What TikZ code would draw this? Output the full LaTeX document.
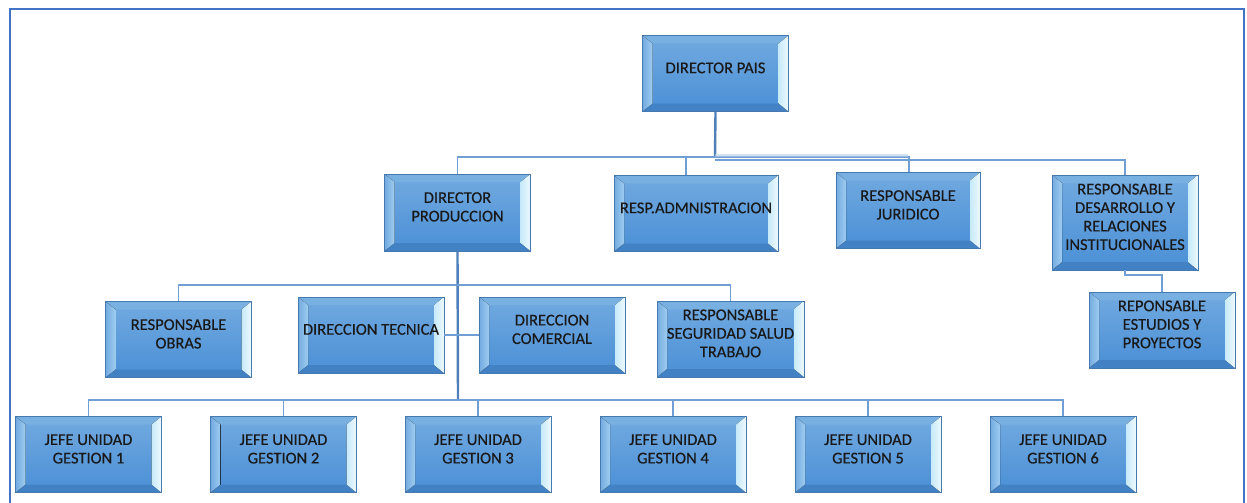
\documentclass[tikz,border=0pt]{standalone}
\usepackage{fontspec}
\setmainfont{Carlito}[FakeBold=0.4]
\definecolor{facetop}{HTML}{72AAE0}
\definecolor{facebot}{HTML}{4A8FD6}
\definecolor{edgec}{HTML}{4679B0}
\definecolor{bevL}{HTML}{9FCDF0}
\definecolor{bevR}{HTML}{C6EAFA}
\definecolor{bevT}{HTML}{78B0E2}
\definecolor{bevB}{HTML}{4281C4}
\definecolor{conn}{HTML}{6F9FD4}
\definecolor{connD}{HTML}{4F7FB8}
\definecolor{framec}{HTML}{4472C4}
\newcommand\boxlbl[1]{\raisebox{4pt}[\height][\depth]{\begin{tabular}{@{}c@{}}#1\end{tabular}}}
\begin{document}
\begin{tikzpicture}[x=1pt,y=-1pt,
  orgbox/.style={draw=edgec, line width=0.8pt, top color=facetop, bottom color=facebot,
    minimum width=146pt, minimum height=76pt, text=black!90, inner sep=2pt,
    font=\fontsize{16.5}{18.5}\selectfont,
    path picture={
      \fill[bevT] (path picture bounding box.north west) -- (path picture bounding box.north east)
        -- ([shift={(-10pt,-8pt)}]path picture bounding box.north east) -- ([shift={(10pt,-8pt)}]path picture bounding box.north west) -- cycle;
      \fill[bevB] (path picture bounding box.south west) -- (path picture bounding box.south east)
        -- ([shift={(-10pt,8pt)}]path picture bounding box.south east) -- ([shift={(10pt,8pt)}]path picture bounding box.south west) -- cycle;
      \fill[left color=facetop, right color=bevL] (path picture bounding box.north west) -- ([shift={(10pt,-8pt)}]path picture bounding box.north west)
        -- ([shift={(10pt,8pt)}]path picture bounding box.south west) -- (path picture bounding box.south west) -- cycle;
      \fill[left color=bevR, right color=white!70!bevR] (path picture bounding box.north east) -- ([shift={(-10pt,-8pt)}]path picture bounding box.north east)
        -- ([shift={(-10pt,8pt)}]path picture bounding box.south east) -- (path picture bounding box.south east) -- cycle;
    }},
  link/.style={draw=conn, line width=1.6pt},
  mainlink/.style={draw=connD, line width=2.4pt}]
\useasboundingbox (0,0) rectangle (1247,503);
\draw[framec, line width=1.5pt] (10,503) -- (10,9) -- (1244,9) -- (1244,503);

\coordinate (bus1) at (715,157);
\coordinate (bus2) at (458,285);
\coordinate (bus4) at (458,400);
\coordinate (busd) at (1125,275);

\node[orgbox] (dp) at (715.5,73.5) {\boxlbl{DIRECTOR PAIS}};
\node[orgbox, minimum height=77pt] (prod) at (457.5,212.5) {\boxlbl{DIRECTOR\\PRODUCCION}};
\node[orgbox, minimum width=164pt] (adm) at (696,213.5) {\boxlbl{RESP.ADMNISTRACION}};
\node[orgbox, minimum width=144pt] (jur) at (908,210.5) {\boxlbl{RESPONSABLE\\JURIDICO}};
\node[orgbox, minimum height=95pt] (des) at (1125,222.5) {\boxlbl{RESPONSABLE\\DESARROLLO Y\\RELACIONES\\INSTITUCIONALES}};
\node[orgbox] (est) at (1162,330) {\boxlbl{REPONSABLE\\ESTUDIOS Y\\PROYECTOS}};
\node[orgbox] (obras) at (178.5,339.5) {\boxlbl{RESPONSABLE\\OBRAS}};
\node[orgbox] (tec) at (371,335) {\boxlbl{DIRECCION TECNICA}};
\node[orgbox] (com) at (552,335) {\boxlbl{DIRECCION\\COMERCIAL}};
\node[orgbox, minimum width=147pt] (seg) at (730.5,339) {\boxlbl{RESPONSABLE\\SEGURIDAD SALUD\\TRABAJO}};
\node[orgbox] (j1) at (88.5,454.5) {\boxlbl{JEFE UNIDAD\\GESTION 1}};
\node[orgbox] (j2) at (283.5,454.5) {\boxlbl{JEFE UNIDAD\\GESTION 2}};
\node[orgbox] (j3) at (478,454.5) {\boxlbl{JEFE UNIDAD\\GESTION 3}};
\node[orgbox] (j4) at (673,454.5) {\boxlbl{JEFE UNIDAD\\GESTION 4}};
\node[orgbox] (j5) at (868,454.5) {\boxlbl{JEFE UNIDAD\\GESTION 5}};
\node[orgbox] (j6) at (1063,454.5) {\boxlbl{JEFE UNIDAD\\GESTION 6}};

% level 1
\draw[mainlink] (dp.south) -- (bus1);
\draw[link] (prod.north) |- (bus1);
\draw[link] ([xshift=-10pt]adm.north) |- (bus1) -| ([xshift=1pt]jur.north);
\draw[link] ([xshift=1pt]jur.north) |- ([yshift=-3pt]bus1) -| (des.north);
\draw[draw=conn!50, line width=3pt, opacity=0.6] ([yshift=2pt]bus1) -- ([yshift=2pt]bus1 -| jur.north);
% level 2
\draw[mainlink] (prod.south) -- (bus4);
\draw[link] (obras.north) |- (bus2) -| (seg.north);
\draw[link] (tec.east) -- (com.west);
% level 3
\draw[link] (j1.north) |- (bus4) -| (j6.north);
\draw[link] (j2.north) -- (j2.north |- bus4);
\draw[link] (j3.north) -- (j3.north |- bus4);
\draw[link] (j4.north) -- (j4.north |- bus4);
\draw[link] (j5.north) -- (j5.north |- bus4);
% desarrollo -> estudios
\draw[link] (des.south) -- (busd) -| (est.north);
\end{tikzpicture}
\end{document}
